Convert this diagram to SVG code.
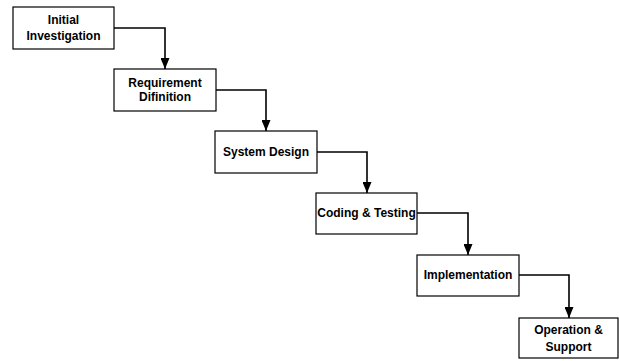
<svg xmlns="http://www.w3.org/2000/svg" width="619" height="361" viewBox="0 0 619 361">
<style>
.box{fill:#fff;stroke:#000;stroke-width:1.2}
.lbl{font-family:"Liberation Sans",Arial,sans-serif;font-weight:bold;font-size:12px;fill:#000;text-anchor:middle}
.conn{fill:none;stroke:#000;stroke-width:1.6}
</style>
<defs>
<marker id="arr" markerWidth="11" markerHeight="9" refX="11" refY="4.5" orient="auto" markerUnits="userSpaceOnUse" viewBox="0 0 11 9">
<polygon points="0,0 11,4.5 0,9" fill="#000"/>
</marker>
</defs>
<rect width="619" height="361" fill="#fff"/>
<g id="connectors">
<polyline class="conn" points="114,28 165,28 165,69" marker-end="url(#arr)"/>
<polyline class="conn" points="216,90 266,90 266,131" marker-end="url(#arr)"/>
<polyline class="conn" points="317,152 367,152 367,193" marker-end="url(#arr)"/>
<polyline class="conn" points="417,213 468,213 468,255" marker-end="url(#arr)"/>
<polyline class="conn" points="519,275 569,275 569,318" marker-end="url(#arr)"/>
</g>
<g id="n1"><rect class="box" x="13" y="7" width="101" height="42"/><text class="lbl" x="63.5" y="24">Initial</text><text class="lbl" x="63.5" y="40">Investigation</text></g>
<g id="n2"><rect class="box" x="114" y="69" width="102" height="42"/><text class="lbl" x="165" y="87">Requirement</text><text class="lbl" x="165" y="101">Difinition</text></g>
<g id="n3"><rect class="box" x="215" y="131" width="102" height="42"/><text class="lbl" x="266" y="156">System Design</text></g>
<g id="n4"><rect class="box" x="316" y="193" width="101" height="41"/><text class="lbl" x="366.5" y="217">Coding &amp; Testing</text></g>
<g id="n5"><rect class="box" x="417" y="255" width="102" height="41"/><text class="lbl" x="468" y="279">Implementation</text></g>
<g id="n6"><rect class="box" x="519" y="318" width="99" height="40"/><text class="lbl" x="568.5" y="334">Operation &amp;</text><text class="lbl" x="568.5" y="351">Support</text></g>
</svg>
